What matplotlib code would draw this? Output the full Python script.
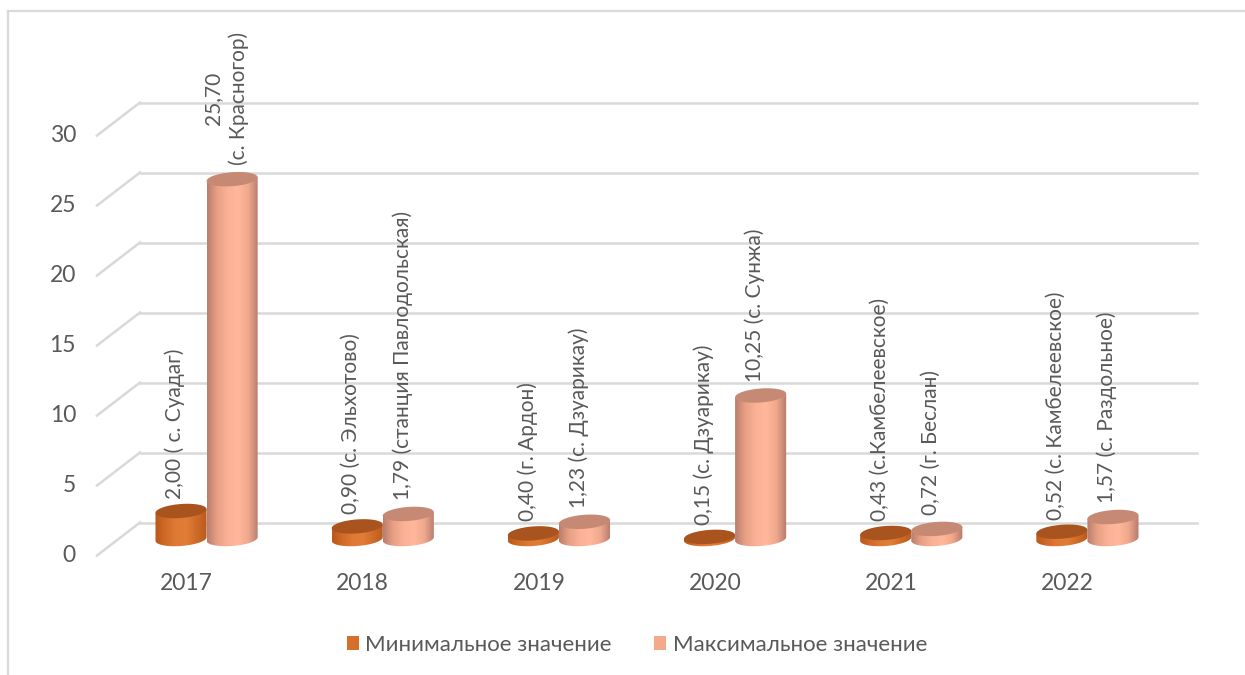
import numpy as np
import matplotlib
matplotlib.use("Agg")
import matplotlib.pyplot as plt
from matplotlib.patches import PathPatch, Polygon, Patch
from matplotlib.path import Path
from matplotlib.lines import Line2D
from matplotlib.transforms import IdentityTransform
from matplotlib.colors import LinearSegmentedColormap

# ---------------- data ----------------
years = ['2017', '2018', '2019', '2020', '2021', '2022']
min_values = [2.00, 0.90, 0.40, 0.15, 0.43, 0.52]
max_values = [25.70, 1.79, 1.23, 10.25, 0.72, 1.57]
min_places = ['( с. Суадаг)', '(с. Эльхотово)', '(г. Ардон)', '(с. Дзуарикау)',
              '(с.Камбелеевское)', '(с. Камбелеевское)']
max_places = ['(с. Красногор)', '(станция Павлодольская)', '(с. Дзуарикау)',
              '(с. Сунжа)', '(г. Беслан)', '(с. Раздольное)']
y_ticks = [0, 5, 10, 15, 20, 25, 30]
series_names = ['Минимальное значение', 'Максимальное значение']

# ---------------- style ----------------
plt.rcParams['font.family'] = ['Lato', 'DejaVu Sans']
TEXT = '#595959'
GRID = '#d9d9d9'
FS_LAB = 15
FS_AX = 16.5
FS_LEG = 16

min_grad = ['#B9581B', '#D06A27', '#DF7A36', '#E27D38', '#CF6B28', '#B95A1D']
max_grad = ['#B87E6C', '#E9A186', '#FAB195', '#FFB89B', '#EFA88C', '#B57B6B']
min_top = '#A9541F'
max_top = '#C68A74'
legend_cols = ['#D4702A', '#F3A98A']

W, H = 1245, 675
PX_PER_UNIT = 14.0
Y_LOW = -1.5
fig = plt.figure(figsize=(W / 100, H / 100), dpi=100)
base_px = 539 - Y_LOW * PX_PER_UNIT
ax = fig.add_axes([118.5 / W, (H - base_px) / H, 1057 / W,
                   (30 - Y_LOW) * PX_PER_UNIT / H])
ax.set_xlim(-0.5, 5.5)
ax.set_ylim(Y_LOW, 30)
ax.axis('off')

# depth offset (pixels) between mid plane and back / front planes
DX, DY = 21.5, 16.5

# border of chart area
fig.add_artist(Line2D([8 / W, 1.0], [1 - 11 / H] * 2, transform=fig.transFigure,
                      color=GRID, lw=1.6))
fig.add_artist(Line2D([8 / W] * 2, [0, 1 - 11 / H], transform=fig.transFigure,
                      color=GRID, lw=1.6))

# gridlines: back wall horizontal + left wall diagonals
for t in y_ticks:
    p0 = ax.transData.transform((-0.5, t))
    p1 = ax.transData.transform((5.5, t))
    ax.add_line(Line2D([p0[0] + DX, p1[0] + DX], [p0[1] + DY, p1[1] + DY],
                       transform=IdentityTransform(), color=GRID, lw=1.8,
                       zorder=0.5, clip_on=False))
    ax.add_line(Line2D([p0[0] + DX, p0[0] - DX], [p0[1] + DY, p0[1] - DY],
                       transform=IdentityTransform(), color=GRID, lw=1.8,
                       zorder=0.5, clip_on=False))
    ax.annotate(f'{t}', xy=(-0.5, t), xytext=(-DX - 21, -DY), textcoords='offset pixels',
                ha='right', va='center', fontsize=FS_AX, color=TEXT, annotation_clip=False)

# ---------------- cylinders ----------------
w = 0.29           # cylinder width (data x units)
h = 1.0            # ellipse height (data y units)
tilt = 0.13        # slight perspective skew of ellipses
r = w / 2
ts = np.linspace(0, 2 * np.pi, 120)


def cylinder(xc, v, grad, topc, z):
    tb = np.linspace(np.pi, 2 * np.pi, 60)
    xs = [xc - r, xc - r]
    ys = [v - tilt, -tilt]
    xs += list(xc + r * np.cos(tb))
    ys += list(h / 2 * np.sin(tb) + tilt * np.cos(tb))
    xs += [xc + r, xc + r]
    ys += [tilt, v + tilt]
    verts = list(zip(xs, ys)) + [(xs[0], ys[0])]
    codes = [Path.MOVETO] + [Path.LINETO] * (len(verts) - 2) + [Path.CLOSEPOLY]
    body = PathPatch(Path(verts, codes), facecolor='none', edgecolor='none', zorder=z)
    ax.add_patch(body)
    cmap = LinearSegmentedColormap.from_list('g', grad)
    im = ax.imshow(np.linspace(0, 1, 200)[None, :], cmap=cmap, aspect='auto',
                   extent=[xc - r, xc + r, -h, v + h], interpolation='bilinear',
                   zorder=z)
    im.set_clip_path(body)
    top = Polygon(np.column_stack([xc + r * np.cos(ts),
                                   v + h / 2 * np.sin(ts) + tilt * np.cos(ts)]),
                  closed=True, facecolor=topc, edgecolor='none', zorder=z + 0.1)
    ax.add_patch(top)


def fmt(v):
    return f'{v:.2f}'.replace('.', ',')


for i, year in enumerate(years):
    x_min = i - w / 2
    x_max = i + w / 2
    cylinder(x_min, min_values[i], min_grad, min_top, 2 + i)
    cylinder(x_max, max_values[i], max_grad, max_top, 2.5 + i)

    ax.annotate(f'{fmt(min_values[i])} {min_places[i]}', xy=(x_min, min_values[i]),
                xytext=(-6, 12), textcoords='offset pixels', rotation=90,
                ha='center', va='bottom', fontsize=FS_LAB, color=TEXT,
                annotation_clip=False, zorder=20)
    sep = '\n' if max_values[i] > 20 else ' '
    ax.annotate(f'{fmt(max_values[i])}{sep}{max_places[i]}', xy=(x_max, max_values[i]),
                xytext=(-6, 14), textcoords='offset pixels', rotation=90,
                ha='center', va='bottom', multialignment='center', fontsize=FS_LAB,
                color=TEXT, annotation_clip=False, zorder=20, linespacing=1.35)

    ax.annotate(year, xy=(i, 0), xytext=(-20, -DY - 28), textcoords='offset pixels',
                ha='center', va='center', fontsize=FS_AX, color=TEXT, annotation_clip=False)

handles = [Patch(facecolor=c, edgecolor='none') for c in legend_cols]
fig.legend(handles, series_names, loc='center', bbox_to_anchor=(637 / W, 30 / H),
           ncol=2, frameon=False, fontsize=FS_LEG, labelcolor=TEXT,
           handlelength=0.55, handleheight=0.55, handletextpad=0.3, columnspacing=1.9)

fig.savefig('out.png', dpi=100)
